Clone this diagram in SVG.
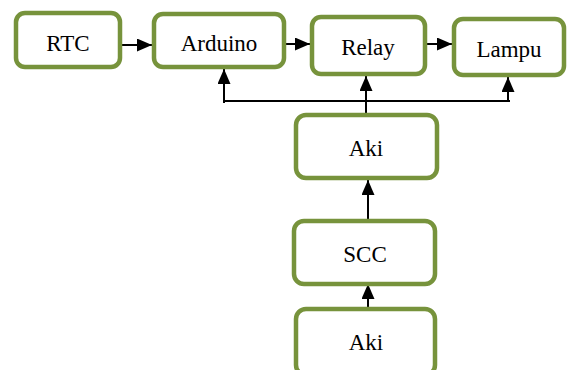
<svg xmlns="http://www.w3.org/2000/svg" width="572" height="370" viewBox="0 0 572 370">
<style>
.box{fill:#fff;stroke:#77933C;stroke-width:4.5}
.lbl{font-family:"Liberation Serif","Times New Roman",serif;font-size:23px;fill:#000;text-anchor:middle}
.ln{stroke:#000;stroke-width:2;fill:none}
.arr{marker-end:url(#ah)}
</style>
<defs>
<marker id="ah" markerUnits="userSpaceOnUse" markerWidth="15" markerHeight="13" refX="15" refY="6.5" orient="auto" viewBox="0 0 15 13">
<path d="M0,0 L15,6.5 L0,13 z" fill="#000"/>
</marker>
</defs>
<g id="connectors">
<path class="ln arr" d="M122,45 L152,45"/>
<path class="ln arr" d="M286,44 L310,44"/>
<path class="ln arr" d="M427,44 L452,44"/>
<path class="ln" d="M224,101 L510,101"/>
<path class="ln arr" d="M224,103 L224,69"/>
<path class="ln arr" d="M508,101 L508,77"/>
<path class="ln arr" d="M366,113 L366,76"/>
<path class="ln arr" d="M368,219 L368,180"/>
<path class="ln arr" d="M368,313 L368,284"/>
</g>
<g id="rtc"><rect class="box" x="16" y="13" width="104" height="54" rx="9"/><text class="lbl" x="68" y="51">RTC</text></g>
<g id="arduino"><rect class="box" x="154" y="14" width="130" height="53" rx="9"/><text class="lbl" x="219" y="51">Arduino</text></g>
<g id="relay"><rect class="box" x="312" y="17" width="113" height="57" rx="9"/><text class="lbl" x="368" y="55">Relay</text></g>
<g id="lampu"><rect class="box" x="454" y="19" width="110" height="56" rx="9"/><text class="lbl" x="509" y="57">Lampu</text></g>
<g id="aki1"><rect class="box" x="296" y="115" width="141" height="63" rx="10"/><text class="lbl" x="366" y="156">Aki</text></g>
<g id="scc"><rect class="box" x="294" y="221" width="141" height="63" rx="10"/><text class="lbl" x="365" y="262">SCC</text></g>
<g id="aki2"><rect class="box" x="296" y="309" width="139" height="66" rx="10"/><text class="lbl" x="366" y="350">Aki</text></g>
</svg>
